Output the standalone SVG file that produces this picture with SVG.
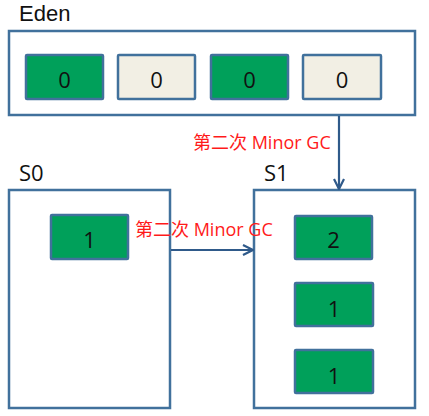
<svg xmlns="http://www.w3.org/2000/svg" width="429" height="416" viewBox="0 0 429 416">
<style>
.box{fill:#fff;stroke:#41719C;stroke-width:2.5}
.g{fill:#00A05A;stroke:#41719C;stroke-width:2.5}
.b{fill:#F2EFE4;stroke:#41719C;stroke-width:2.5}
.t{font-family:"Open Sans","Liberation Sans",sans-serif;font-size:22px;fill:#111;text-anchor:middle}
.h{font-family:"Open Sans","Liberation Sans",sans-serif;font-size:22px;fill:#111}
.r{font-family:"Open Sans","Noto Sans CJK SC",sans-serif;font-size:18px;fill:#FF1A1A}
.c{stroke:#2F5A8A;stroke-width:2.2;fill:none;marker-end:url(#ah)}
</style>
<defs>
<marker id="ah" viewBox="0 0 12 12" refX="11" refY="6" markerWidth="12" markerHeight="12" markerUnits="userSpaceOnUse" orient="auto">
<path d="M1,1 L11,6 L1,11" fill="none" stroke="#2F5A8A" stroke-width="2.2"/>
</marker>
</defs>
<g id="eden">
<text x="19" y="21" font-family="'Liberation Sans',sans-serif" font-size="22" fill="#111">Eden</text>
<rect class="box" x="9" y="31" width="406" height="84"/>
</g>
<g id="eden-0a"><rect class="g" x="26" y="55" width="77" height="44" rx="1"/><text class="t" x="64.5" y="88">0</text></g>
<g id="eden-0b"><rect class="b" x="118" y="55" width="77" height="44" rx="1"/><text class="t" x="156.5" y="88">0</text></g>
<g id="eden-0c"><rect class="g" x="211" y="55" width="77" height="44" rx="1"/><text class="t" x="249.5" y="88">0</text></g>
<g id="eden-0d"><rect class="b" x="303" y="55" width="78" height="44" rx="1"/><text class="t" x="342" y="88">0</text></g>
<g id="s0">
<text class="h" x="19" y="181">S0</text>
<rect class="box" x="9" y="190" width="161" height="218"/>
</g>
<g id="s0-1"><rect class="g" x="51" y="215" width="77" height="44" rx="1"/><text class="t" x="89.5" y="248">1</text></g>
<g id="s1">
<text class="h" x="264" y="181">S1</text>
<rect class="box" x="254" y="190" width="161" height="218"/>
</g>
<g id="s1-2"><rect class="g" x="295" y="216" width="77" height="43" rx="1"/><text class="t" x="333.5" y="248">2</text></g>
<g id="s1-1a"><rect class="g" x="295" y="283" width="78" height="43" rx="1"/><text class="t" x="334" y="317">1</text></g>
<g id="s1-1b"><rect class="g" x="295" y="350" width="78" height="43" rx="1"/><text class="t" x="334" y="384">1</text></g>
<g id="connectors">
<path class="c" d="M339,116 V189"/>
<path class="c" d="M171,250 H253"/>
<text class="r" x="193" y="149">第二次 Minor GC</text>
<text class="r" x="135" y="236">第二次 Minor GC</text>
</g>
</svg>
